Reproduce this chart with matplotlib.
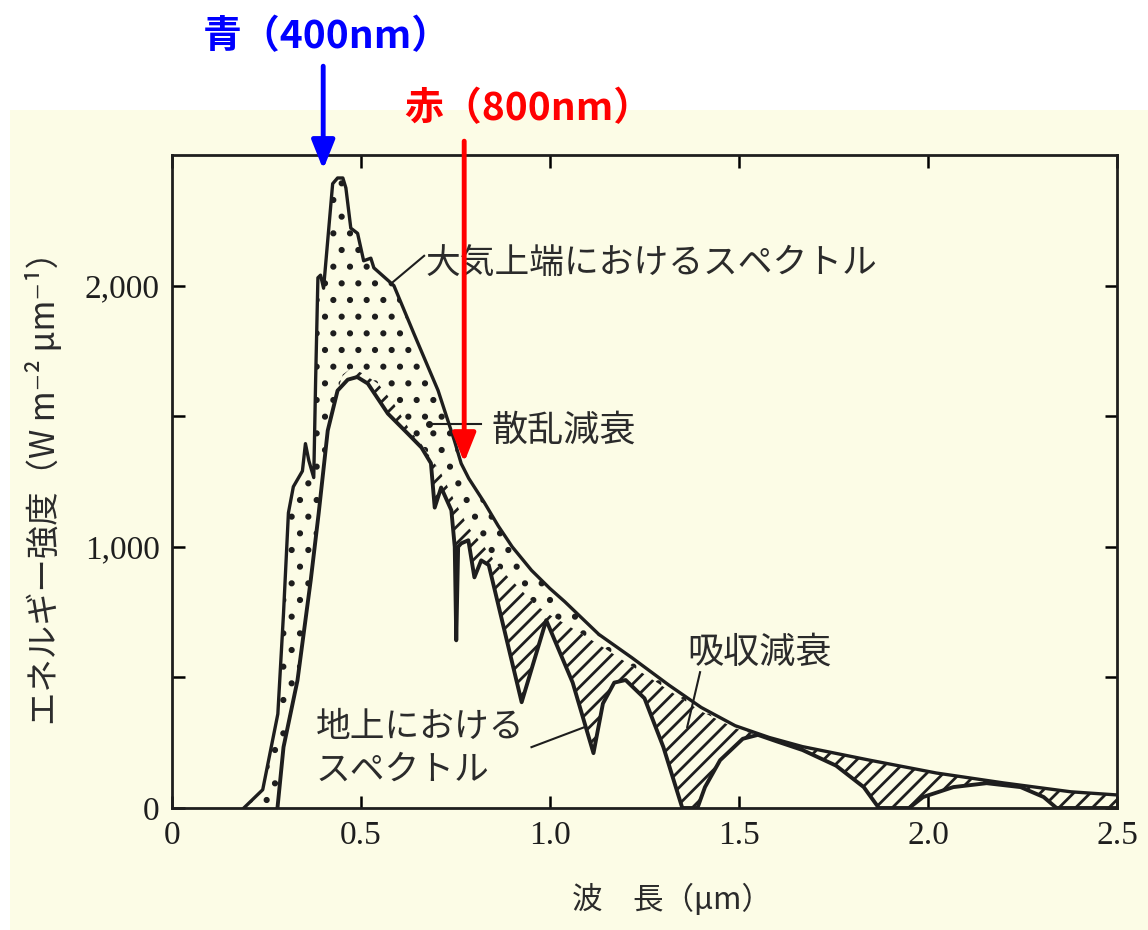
import numpy as np
import matplotlib
matplotlib.use("Agg")
import matplotlib.pyplot as plt
from matplotlib.patches import Rectangle

plt.rcParams['font.family'] = ['Noto Sans CJK JP', 'DejaVu Sans']
plt.rcParams['hatch.linewidth'] = 2.0

# spectrum at top of atmosphere (um, W m-2 um-1)
toa_x = [0.19, 0.24, 0.28, 0.295, 0.308, 0.321, 0.345, 0.353, 0.362, 0.375, 0.38, 0.386,
         0.393, 0.401, 0.425, 0.438, 0.452, 0.46, 0.473, 0.491, 0.507, 0.526, 0.534, 0.587,
         0.64, 0.704, 0.747, 0.765, 0.785, 0.826, 0.863, 0.90, 0.951, 1.0, 1.039, 1.129,
         1.217, 1.315, 1.40, 1.49, 1.58, 1.668, 1.846, 2.022, 2.2, 2.378, 2.5]
toa_y = [0, 70, 360, 745, 1130, 1230, 1290, 1395, 1330, 1265, 1640, 2030,
         2040, 1990, 2390, 2412, 2412, 2374, 2220, 2200, 2095, 2105, 2068, 2000,
         1816, 1598, 1407, 1319, 1262, 1170, 1080, 1000, 910, 840, 790, 665,
         575, 470, 385, 315, 270, 235, 183, 134, 96, 62, 50]

# after scattering attenuation
mid_x = [0.279, 0.295, 0.332, 0.367, 0.388, 0.412, 0.438, 0.452, 0.473, 0.50, 0.545, 0.587,
         0.632, 0.659, 0.712, 0.747, 0.784, 0.826, 0.871, 0.917, 0.959, 1.004, 1.04, 1.13,
         1.22, 1.315, 1.40, 1.49, 1.58, 1.668, 1.846, 2.022, 2.2, 2.378, 2.5]
mid_y = [0, 233, 489, 872, 1128, 1445, 1598, 1660, 1682, 1667, 1625, 1548,
         1440, 1395, 1281, 1177, 1074, 1000, 910, 845, 780, 735, 705, 625,
         540, 450, 370, 305, 265, 231, 180, 132, 94, 60, 49]

# spectrum at the ground
gnd_x = [0.279, 0.295, 0.332, 0.367, 0.388, 0.412, 0.438, 0.465, 0.49, 0.518, 0.571, 0.624,
         0.66, 0.685, 0.695, 0.712, 0.739, 0.748, 0.752, 0.757, 0.765, 0.784, 0.80, 0.818,
         0.838, 0.925, 0.99, 1.06, 1.115, 1.14, 1.17, 1.2, 1.25, 1.3, 1.35, 1.39, 1.41,
         1.45, 1.51, 1.55, 1.6, 1.668, 1.757, 1.83, 1.87, 1.95, 1.987, 2.067, 2.155,
         2.245, 2.306, 2.34, 2.5]
gnd_y = [0, 233, 489, 872, 1128, 1445, 1598, 1640, 1650, 1625, 1510, 1433,
         1380, 1320, 1150, 1227, 1140, 1000, 642, 1000, 1013, 1025, 883, 948,
         930, 405, 719, 480, 210, 400, 480, 490, 420, 233, 0, 0, 80,
         183, 265, 280, 255, 222, 162, 80, 0, 0, 42, 80, 95,
         80, 42, 0, 0]

xticks = [0, 0.5, 1.0, 1.5, 2.0, 2.5]
xlabels = ['0', '0.5', '1.0', '1.5', '2.0', '2.5']
yticks = [0, 1000, 2000]
ylabels = ['0', '1,000', '2,000']

cream = '#fcfce6'
ink = '#1e1e1e'
grey = '#2b2b2b'

fig = plt.figure(figsize=(11.48, 9.3), dpi=100)
fig.patches.append(Rectangle((10 / 1148, 0), 1, 1 - 110 / 930, transform=fig.transFigure,
                             facecolor=cream, edgecolor='none', zorder=-10))
ax = fig.add_axes([172 / 1148, 1 - 808 / 930, 945 / 1148, 653 / 930])
ax.set_facecolor(cream)

# dotted band: scattering loss
ax.fill(np.concatenate([toa_x, mid_x[::-1]]), np.concatenate([toa_y, mid_y[::-1]]),
        facecolor='none', edgecolor=ink, hatch='.', linewidth=0)
# hatched band: absorption loss
ax.fill(np.concatenate([mid_x, gnd_x[::-1]]), np.concatenate([mid_y, gnd_y[::-1]]),
        facecolor='none', edgecolor=ink, hatch='//', linewidth=0)

ax.plot(toa_x, toa_y, color=ink, lw=2.4)
ax.plot(gnd_x, gnd_y, color=ink, lw=2.8)

ax.set_xlim(0, 2.5)
ax.set_ylim(0, 2500)
ax.set_xticks(xticks)
ax.set_xticklabels(xlabels, family='Liberation Serif', fontsize=24, color=ink)
ax.set_yticks(yticks)
ax.set_yticklabels(ylabels, family='Liberation Serif', fontsize=24, color=ink)
ax.set_yticks([500, 1500], minor=True)
ax.tick_params(which='both', direction='in', top=True, right=True, length=9, width=1.8,
               pad=9)
for s in ax.spines.values():
    s.set_linewidth(2.0)
    s.set_color(ink)

# curve labels
ax.plot([0.667, 0.579], [2114, 2007], color=ink, lw=1.5)
ax.text(0.672, 2083, '大気上端におけるスペクトル', fontsize=25, color=grey,
        ha='left', va='center')
ax.plot([0.680, 0.818], [1472, 1472], color=ink, lw=1.5)
ax.plot([0.680], [1472], 'o', color=ink, ms=4)
ax.text(0.845, 1445, '散乱減衰', fontsize=26, color=grey, ha='left', va='center')
ax.plot([1.397, 1.363], [520, 310], color=ink, lw=1.5)
ax.text(1.363, 596, '吸収減衰', fontsize=26, color=grey, ha='left', va='center')
ax.plot([0.951, 1.092], [233, 310], color=ink, lw=1.5)
ax.text(0.38, 310, '地上における', fontsize=25, color=grey, ha='left', va='center')
ax.text(0.38, 145, 'スペクトル', fontsize=25, color=grey, ha='left', va='center')

# coloured markers
arrow = '-|>,head_length=0.7,head_width=0.28'
ax.annotate('', xy=(0.4, 2445), xytext=(0.4, 2840), annotation_clip=False,
            arrowprops=dict(arrowstyle=arrow, color='#0000ff', lw=3.5, mutation_scale=25,
                            shrinkA=0, shrinkB=0))
ax.text(0.409, 2955, '青（400nm）', color='#0000ff', fontsize=28, fontweight='bold',
        ha='center', va='center', clip_on=False)
ax.annotate('', xy=(0.773, 1323), xytext=(0.773, 2553), annotation_clip=False,
            arrowprops=dict(arrowstyle=arrow, color='#ff0000', lw=3.5, mutation_scale=25,
                            shrinkA=0, shrinkB=0))
ax.text(0.943, 2676, '赤（800nm）', color='#ff0000', fontsize=28, fontweight='bold',
        ha='center', va='center', clip_on=False)

fig.text(672 / 1148, 1 - 900 / 930, '波　長（μm）', fontsize=22, color=grey,
         ha='center', va='center')
fig.text(45 / 1148, 1 - 480 / 930, 'エネルギー強度（W m⁻² μm⁻¹）', fontsize=24,
         color=grey, ha='center', va='center', rotation=90)

fig.savefig('out.png', dpi=100)
